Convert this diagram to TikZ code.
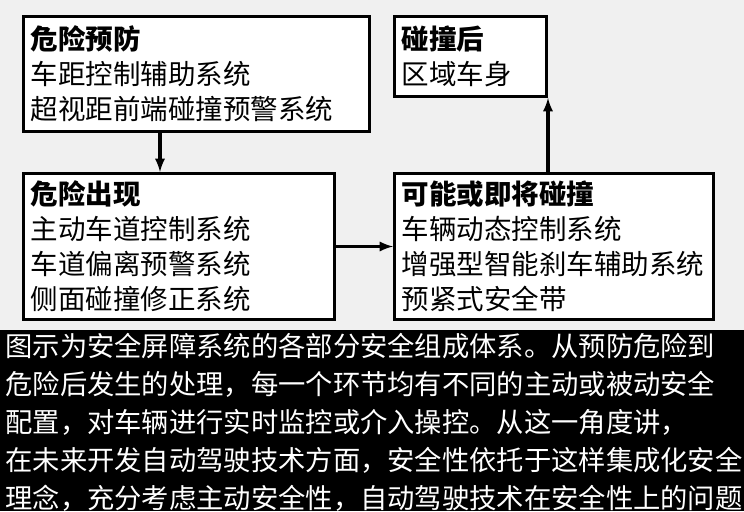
\documentclass[tikz,border=0pt]{standalone}
\usepackage{fontspec}
\setmainfont{Noto Sans CJK SC}
\usetikzlibrary{positioning}
\begin{document}
\begin{tikzpicture}
                    [x=1pt, y=1pt,
                    box/.style={rectangle, anchor=north west,
                        draw=black, line width=3pt, fill=white,
                        align=left, inner xsep=7pt, inner ysep=4pt,
                        font=\fontsize{27.5}{35}\selectfont},
                    flow/.style={-latex, line width=3.5pt},
                    thick]

                    \fill[gray!12] (0,0) rectangle (744,511);
                    \fill[black] (0,0) rectangle (744,181);

                    \node[box, text width=332pt, minimum height=115pt] at (22,496)
                        (prevent) {\textbf{危险预防}\\车距控制辅助系统\\超视距前端碰撞预警系统};
                    \node[box, text width=297pt, minimum height=146pt] at (22,339)
                        (appear) {\textbf{危险出现}\\主动车道控制系统\\车道偏离预警系统\\侧面碰撞修正系统};
                    \node[box, text width=138pt, minimum height=80pt] at (393,496)
                        (after) {\textbf{碰撞后}\\区域车身};
                    \node[box, text width=305pt, minimum height=146pt] at (393,339)
                        (crash) {\textbf{可能或即将碰撞}\\车辆动态控制系统\\增强型智能刹车辅助系统\\预紧式安全带};

                    \draw[flow] (prevent.south -| 160,0) -- (appear.north -| 160,0);
                    \draw[flow] (appear.east) -- (crash.west);
                    \draw[flow] (crash.north -| 548,0) -- (after.south -| 548,0);

                    \node[anchor=north west, text=white, align=left, inner sep=0pt,
                        font=\fontsize{27.3}{38}\selectfont] at (5,178)
                        (caption) {图示为安全屏障系统的各部分安全组成体系。从预防危险到\\
                        危险后发生的处理，每一个环节均有不同的主动或被动安全\\
                        配置，对车辆进行实时监控或介入操控。从这一角度讲，\\
                        在未来开发自动驾驶技术方面，安全性依托于这样集成化安全\\
                        理念，充分考虑主动安全性，自动驾驶技术在安全性上的问题};
                    \useasboundingbox (0,0) rectangle (744,511);
                \end{tikzpicture}
\end{document}
